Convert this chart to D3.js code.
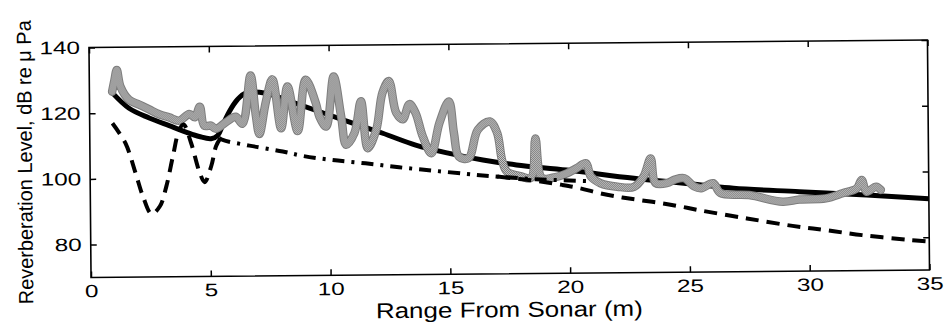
<!DOCTYPE html>
<html>
<head>
<meta charset="utf-8">
<script src="https://cdn.jsdelivr.net/npm/d3@7"></script>
<style>
  html, body { margin: 0; padding: 0; background: #fff; }
  svg { display: block; }
  text { font-family: "Liberation Sans", Arial, Helvetica, sans-serif; fill: #000; }
</style>
</head>
<body>
<div id="chart"></div>
<script>
// ranges in metres, levels in dB re 1 uPa
const xTicks = [0, 5, 10, 15, 20, 25, 30, 35];
const yTicks = [80, 100, 120, 140];

// measured reverberation (grey band)
const measRange = [0.95, 1.05, 1.15, 1.3, 1.65, 2.07, 2.49, 2.9, 3.32, 3.74, 4.16, 4.4, 4.6, 4.78, 5.06, 5.27, 5.69, 6.1, 6.38, 6.73, 6.94, 7.08, 7.36, 7.64, 7.99, 8.27, 8.68, 9.03, 9.45, 9.59, 9.87, 10.2, 10.5, 10.7, 11.05, 11.33, 11.6, 11.96, 12.23, 12.5, 12.8, 13.07, 13.35, 13.6, 13.9, 14.25, 14.6, 15.0, 15.2, 15.4, 15.8, 16.2, 16.7, 17.0, 17.2, 17.4, 18.0, 18.4, 18.6, 18.85, 19.3, 19.9, 20.3, 20.7, 20.9, 21.3, 22.0, 22.7, 23.1, 23.4, 23.6, 24.1, 24.4, 24.8, 25.2, 25.5, 26.0, 26.3, 27.5, 28.9, 29.6, 30.7, 31.4, 32.0, 32.2, 32.4, 32.8, 33.0];
const measLevel = [126.5, 130, 133.1, 128.0, 124.0, 122.5, 121.0, 119.5, 118.5, 117.5, 119.5, 118.5, 121.7, 115.9, 115.9, 114.9, 116.9, 118.5, 116.4, 131.0, 118.8, 113.2, 122.9, 129.8, 114.9, 127.6, 114.0, 129.6, 122.4, 118.4, 115.3, 130.5, 118.3, 109.7, 113.3, 122.9, 108.6, 114.2, 125.4, 129.0, 119.3, 117.3, 121.9, 119.3, 112.0, 106.9, 116.1, 122.6, 113.0, 105.8, 105.3, 113.9, 116.4, 113.0, 104.6, 101.1, 99.6, 99.1, 111.1, 99.1, 99.1, 100.4, 101.9, 103.4, 99.4, 97.3, 96.2, 96.1, 99.2, 104.7, 97.2, 97.2, 98.2, 98.6, 96.1, 95.5, 97.0, 94.0, 93.3, 91.2, 91.8, 92.1, 93.6, 95.1, 97.6, 94.0, 95.5, 94.5];

// model (solid)
const modelRange = [0.95, 1.65, 2.49, 3.32, 4.02, 4.57, 5.06, 5.34, 5.55, 5.83, 6.17, 6.52, 7.36, 8.61, 10.7, 12.23, 13.6, 15.0, 16.4, 17.8, 19.9, 22.7, 25.5, 26.85, 29.6, 32.4, 35];
const modelLevel = [126.2, 121.4, 118.4, 116.0, 114.0, 112.6, 111.9, 112.9, 116.0, 120.1, 123.7, 125.7, 125.6, 122.4, 117.0, 113.1, 109.4, 106.8, 104.7, 103.1, 101.4, 98.7, 96.5, 95.4, 94.2, 93.0, 91.7];

// dashed model (null where it runs under the dash-dot curve)
const dashRange = [0.95, 1.49, 1.9, 2.2, 2.55, 2.9, 3.18, 3.46, 3.74, 3.92, 4.22, 4.57, 4.78, 5.06, 5.27, 5.45, 11, 17.0, 18.6, 19.7, 20.4, 21.3, 22.2, 23.0, 23.9, 24.7, 25.5, 27.4, 29.3, 30.7, 32.2, 34.2, 35];
const dashLevel = [116.9, 110.7, 101.6, 94.5, 89.2, 91.5, 97.6, 106.6, 114.8, 116.3, 110.8, 101.7, 98.7, 103.6, 109.7, 112.0, null, 99.6, 98.2, 96.9, 95.9, 94.2, 92.9, 92.0, 91.0, 89.9, 88.7, 86.2, 83.8, 82.4, 80.8, 79.2, 78.7];

// dash-dot model
const dotRange = [5.4, 5.55, 6.66, 8.05, 8.9, 10.1, 11.5, 12.9, 14.3, 15.7, 16.7, 18.6, 20.7];
const dotLevel = [112.2, 111.5, 109.7, 107.8, 106.4, 105.1, 104.0, 102.7, 101.6, 100.5, 99.8, 98.7, 98.0];

const width = 945;
const height = 322;
const plotL = 90, plotR = 928.5, plotT = 43.75, plotB = 273.75;

const svg = d3
  .select('#chart')
  .append('svg')
  .attr('width', width)
  .attr('height', height);

// stipple for the grey band
const pat = svg
  .append('defs')
  .append('pattern')
  .attr('id', 'stip')
  .attr('width', 2)
  .attr('height', 2)
  .attr('patternUnits', 'userSpaceOnUse');
pat.append('rect').attr('width', 2).attr('height', 2).attr('fill', '#cfcfcf');
[[0, 0], [1, 1]].forEach(([a, b]) =>
  pat.append('rect').attr('x', a).attr('y', b).attr('width', 1).attr('height', 1).attr('fill', '#707070'),
);

// the scan is tilted a little
const g = svg
  .append('g')
  .attr('transform', `rotate(-0.51, ${(plotL + plotR) / 2}, ${(plotT + plotB) / 2})`);

const x = d3.scaleLinear().domain([0, 35]).range([plotL, plotR]);
const y = d3.scaleLinear().domain([70, 140]).range([plotB, plotT]);

const zip = (xs, ys) => xs.map((d, i) => [d, ys[i]]);

const line = d3
  .line()
  .defined((d) => d[1] != null)
  .x((d) => x(d[0]))
  .y((d) => y(d[1]))
  .curve(d3.curveCatmullRom.alpha(0.5));

// solid model
g.append('path')
  .datum(zip(modelRange, modelLevel))
  .attr('d', line)
  .attr('fill', 'none')
  .attr('stroke', '#000')
  .attr('stroke-width', 5);

// measured data
const meas = zip(measRange, measLevel);
g.append('path')
  .datum(meas)
  .attr('d', line)
  .attr('fill', 'none')
  .attr('stroke', '#7d7d7d')
  .attr('stroke-width', 8.5)
  .attr('stroke-linejoin', 'round')
  .attr('stroke-linecap', 'round');
g.append('path')
  .datum(meas)
  .attr('d', line)
  .attr('fill', 'none')
  .attr('stroke', 'url(#stip)')
  .attr('stroke-width', 6.5)
  .attr('stroke-linejoin', 'round')
  .attr('stroke-linecap', 'round');

// dashed model
g.append('path')
  .datum(zip(dashRange, dashLevel))
  .attr('d', line)
  .attr('fill', 'none')
  .attr('stroke', '#000')
  .attr('stroke-width', 4)
  .attr('stroke-dasharray', '13,8');

// dash-dot model
g.append('path')
  .datum(zip(dotRange, dotLevel))
  .attr('d', line)
  .attr('fill', 'none')
  .attr('stroke', '#000')
  .attr('stroke-width', 4)
  .attr('stroke-dasharray', '12,7,3,7');

// frame
g.append('rect')
  .attr('x', plotL)
  .attr('y', plotT)
  .attr('width', plotR - plotL)
  .attr('height', plotB - plotT)
  .attr('fill', 'none')
  .attr('stroke', '#000')
  .attr('stroke-width', 1.6);

function styleAxis(sel) {
  sel.select('.domain').remove();
  sel.selectAll('line').attr('stroke', '#000').attr('stroke-width', 1.5);
  sel
    .selectAll('text')
    .style('font-size', '18px')
    .attr('textLength', (d) => String(d).length * 13.5)
    .attr('lengthAdjust', 'spacingAndGlyphs');
}

g.append('g')
  .attr('transform', `translate(0,${plotB})`)
  .call(d3.axisBottom(x).tickValues(xTicks).tickSize(-6).tickPadding(7))
  .call(styleAxis);

g.append('g')
  .attr('transform', `translate(0,${plotT})`)
  .call(d3.axisTop(x).tickValues(xTicks).tickSize(-6).tickFormat(''))
  .call(styleAxis);

g.append('g')
  .attr('transform', `translate(${plotL},0)`)
  .call(d3.axisLeft(y).tickValues(yTicks).tickSize(-6).tickPadding(9))
  .call(styleAxis);

g.append('g')
  .attr('transform', `translate(${plotR},0)`)
  .call(d3.axisRight(y).tickValues(yTicks).tickSize(-6).tickFormat(''))
  .call(styleAxis);

// axis titles
g.append('text')
  .attr('x', 508)
  .attr('y', 317)
  .attr('text-anchor', 'middle')
  .style('font-size', '21.5px')
  .attr('textLength', 267)
  .attr('lengthAdjust', 'spacingAndGlyphs')
  .text('Range From Sonar (m)');

g.append('text')
  .attr('transform', 'translate(32,158) rotate(-90)')
  .attr('text-anchor', 'middle')
  .style('font-size', '20.5px')
  .attr('textLength', 284)
  .attr('lengthAdjust', 'spacingAndGlyphs')
  .text('Reverberation Level, dB re \u03bc Pa');
</script>
</body>
</html>
